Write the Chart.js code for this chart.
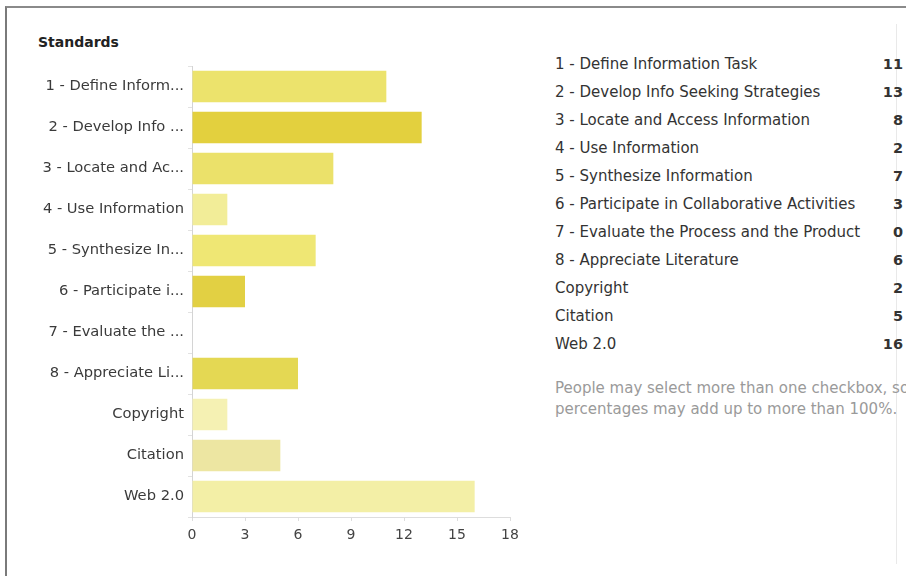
<!DOCTYPE html>
<html>
<head>
<meta charset="utf-8">
<title>Standards</title>
<script src="https://cdn.jsdelivr.net/npm/chart.js@4.4.1/dist/chart.umd.min.js"></script>
<style>
  html, body {
    margin: 0;
    padding: 0;
    width: 906px;
    height: 576px;
    overflow: hidden;
    background: #fff;
    font-family: "DejaVu Sans", Verdana, sans-serif;
  }
  .frame {
    position: absolute;
    left: 5px;
    top: 6px;
    width: 910px;
    height: 580px;
    border-left: 2px solid #7a7a7a;
    border-top: 2px solid #8a8a8a;
  }
  .divider {
    position: absolute;
    left: 896px;
    top: 24px;
    width: 1px;
    height: 540px;
    background: #e9e9e9;
  }
  .title {
    position: absolute;
    left: 38px;
    top: 34px;
    font-size: 14px;
    font-weight: bold;
    color: #222;
  }
  #chartBox {
    position: absolute;
    left: 0;
    top: 0;
    width: 540px;
    height: 576px;
  }
  #tabela {
    position: absolute;
    left: 555px;
    top: 54px;
    width: 348px;
    border-collapse: collapse;
    font-size: 15px;
    color: #333;
  }
  #tabela td {
    padding: 0;
    height: 28px;
    line-height: 20px;
    vertical-align: top;
    white-space: nowrap;
  }
  #tabela td.valor {
    text-align: right;
    font-weight: bold;
    font-size: 14.5px;
  }
  .nota {
    position: absolute;
    left: 555px;
    top: 378px;
    font-size: 15px;
    line-height: 21px;
    color: #9a9a9a;
    white-space: nowrap;
  }
</style>
</head>
<body>
<div class="frame"></div>
<div class="divider"></div>
<div class="title">Standards</div>
<div id="chartBox"><canvas id="graficoStandards"></canvas></div>
<table id="tabela"></table>
<div class="nota">People may select more than one checkbox, so<br>percentages may add up to more than 100%.</div>

<script>
// Dados
const categorias = [
  '1 - Define Information Task',
  '2 - Develop Info Seeking Strategies',
  '3 - Locate and Access Information',
  '4 - Use Information',
  '5 - Synthesize Information',
  '6 - Participate in Collaborative Activities',
  '7 - Evaluate the Process and the Product',
  '8 - Appreciate Literature',
  'Copyright',
  'Citation',
  'Web 2.0'
];
const respostas = [11, 13, 8, 2, 7, 3, 0, 6, 2, 5, 16];
const xTicks = [0, 3, 6, 9, 12, 15, 18];
const coresBarras = [
  '#ece36c', '#e3d03e', '#ebe16a', '#f2ed98', '#efe774', '#e2d043',
  '#e8dc58', '#e4d853', '#f5f1b3', '#ede6a2', '#f3efa6'
];

const fonte = '"DejaVu Sans", Verdana, sans-serif';

// Rótulos longos são cortados no eixo
function encurtar(texto) {
  return texto.length > 19 ? texto.slice(0, 17) + '...' : texto;
}

// Tabela à direita
const tabela = document.getElementById('tabela');
tabela.innerHTML = categorias.map((nome, i) =>
  `<tr><td>${nome}</td><td class="valor">${respostas[i]}</td></tr>`
).join('');

// Gráfico de barras horizontais
const ctx = document.getElementById('graficoStandards').getContext('2d');
new Chart(ctx, {
  type: 'bar',
  data: {
    labels: categorias,
    datasets: [{
      data: respostas,
      backgroundColor: coresBarras,
      borderWidth: 0,
      categoryPercentage: 1,
      barPercentage: 0.77
    }]
  },
  options: {
    indexAxis: 'y',
    responsive: true,
    maintainAspectRatio: false,
    animation: false,
    layout: {
      padding: { top: 66, left: 0, right: 30, bottom: 19 }
    },
    scales: {
      x: {
        min: 0,
        max: 18,
        afterFit: scale => { scale.height = 40; },
        afterBuildTicks: scale => {
          scale.ticks = xTicks.map(v => ({ value: v }));
        },
        grid: {
          drawOnChartArea: false,
          tickLength: 4,
          color: '#dddddd'
        },
        border: { color: '#dddddd' },
        ticks: {
          padding: 6,
          color: '#444',
          font: { family: fonte, size: 14 }
        }
      },
      y: {
        afterFit: scale => { scale.width = 192; },
        grid: {
          drawOnChartArea: false,
          tickLength: 4,
          color: '#e2e2e2'
        },
        border: { color: '#d4d4d4' },
        ticks: {
          padding: 4,
          color: '#3a3a3a',
          autoSkip: false,
          font: { family: fonte, size: 14.7 },
          callback: function(value) {
            return encurtar(this.getLabelForValue(value));
          }
        }
      }
    },
    plugins: {
      legend: { display: false },
      tooltip: { enabled: false }
    }
  }
});
</script>
</body>
</html>
